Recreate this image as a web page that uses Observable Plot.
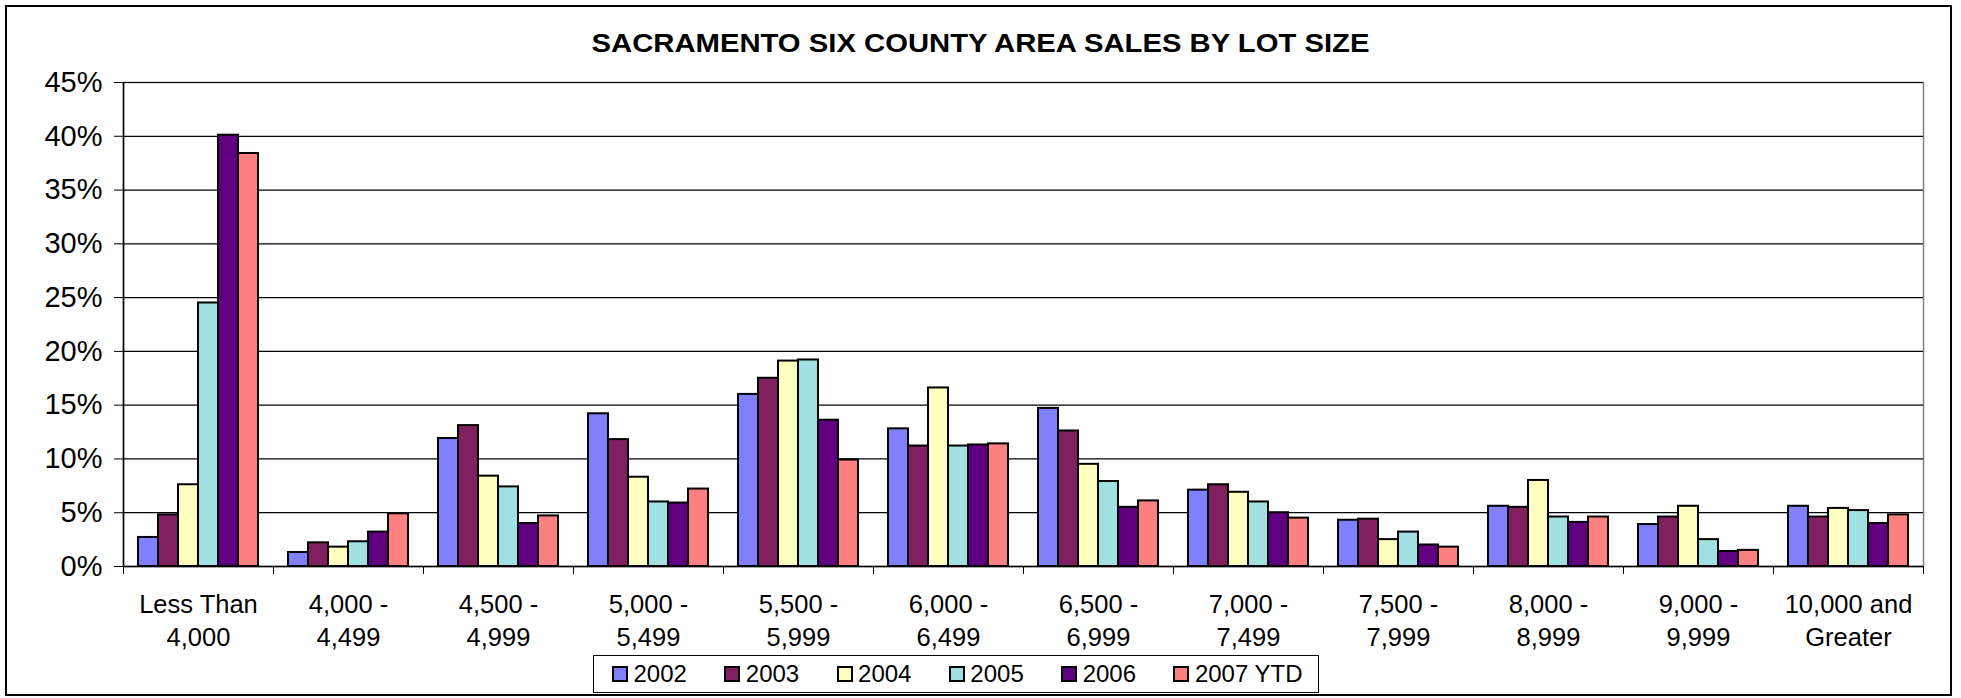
<!DOCTYPE html>
<html>
<head>
<meta charset="utf-8">
<script src="https://cdn.jsdelivr.net/npm/d3@7"></script>
<script src="https://cdn.jsdelivr.net/npm/@observablehq/plot@0.6"></script>
<style>
  html, body { margin: 0; padding: 0; background: #fff; }
  body { width: 1961px; height: 698px; position: relative; overflow: hidden;
         font-family: "Liberation Sans", Arial, sans-serif; color: #000; }
  #frame { position: absolute; left: 5px; top: 5px; width: 1947px; height: 691px;
           border: 2px solid #000; box-sizing: border-box; }
  #title { position: absolute; left: 0; top: 30px; width: 1961px; text-align: center;
           font-weight: bold; font-size: 26px; line-height: 26px; transform: scaleX(1.125); }
  #chart { position: absolute; left: 0; top: 60px; }
  #legend { position: absolute; left: 593px; top: 655px; width: 726px; height: 38px;
            border: 1.5px solid #000; box-sizing: border-box; display: flex; align-items: center;
            padding-left: 18px; gap: 37.4px; font-size: 24px; line-height: 24px; }
  .item { display: flex; align-items: center; white-space: nowrap; }
  .sw { width: 16px; height: 16px; border: 2px solid #000; box-sizing: border-box; margin-right: 5.5px; }
</style>
</head>
<body>
<div id="frame"></div>
<div id="title"></div>
<div id="chart"></div>
<div id="legend"></div>
<script>
const titleText = "SACRAMENTO SIX COUNTY AREA SALES BY LOT SIZE";
const categories = ["Less Than\n4,000", "4,000 -\n4,499", "4,500 -\n4,999", "5,000 -\n5,499",
  "5,500 -\n5,999", "6,000 -\n6,499", "6,500 -\n6,999", "7,000 -\n7,499", "7,500 -\n7,999",
  "8,000 -\n8,999", "9,000 -\n9,999", "10,000 and\nGreater"];
const series = ["2002", "2003", "2004", "2005", "2006", "2007 YTD"];
const colors = ["#8080FF", "#802060", "#FFFFC0", "#A0E0E0", "#600080", "#FF8080"];
const yTicks = [0, 5, 10, 15, 20, 25, 30, 35, 40, 45];

// percent of sales per lot-size category
const s2002 = [2.7, 1.3, 11.9, 14.2, 16.0, 12.8, 14.7, 7.1, 4.3, 5.6, 3.9, 5.6];
const s2003 = [4.8, 2.2, 13.1, 11.8, 17.5, 11.2, 12.6, 7.6, 4.4, 5.5, 4.6, 4.6];
const s2004 = [7.6, 1.8, 8.4, 8.3, 19.1, 16.6, 9.5, 6.9, 2.5, 8.0, 5.6, 5.4];
const s2005 = [24.5, 2.3, 7.4, 6.0, 19.2, 11.2, 7.9, 6.0, 3.2, 4.6, 2.5, 5.2];
const s2006 = [40.1, 3.2, 4.0, 5.9, 13.6, 11.3, 5.5, 5.0, 2.0, 4.1, 1.4, 4.0];
const s2007 = [38.4, 4.9, 4.7, 7.2, 9.9, 11.4, 6.1, 4.5, 1.8, 4.6, 1.5, 4.8];
const seriesValues = [s2002, s2003, s2004, s2005, s2006, s2007];

// table for the library: each bar sits in its category slot, series side by side
const groupFill = 0.8;
const barW = groupFill / series.length;
const rows = [];
categories.forEach((c, ci) => {
  series.forEach((s, si) => {
    const x1 = ci + (1 - groupFill) / 2 + si * barW;
    rows.push({category: c, series: s, value: seriesValues[si][ci], x1, x2: x1 + barW});
  });
});
const boundaries = d3.range(0, categories.length + 1);

document.getElementById("title").textContent = titleText;

const chart = Plot.plot({
  width: 1961,
  height: 595,
  marginLeft: 123,
  marginRight: 38,
  marginTop: 22,
  marginBottom: 89,
  style: {fontFamily: "'Liberation Sans', Arial, sans-serif", fontSize: "28px", color: "#000",
          background: "transparent", overflow: "visible"},
  x: {domain: [0, categories.length], axis: null},
  y: {domain: [0, 45], axis: null},
  color: {domain: series, range: colors},
  marks: [
    Plot.frame({stroke: "#808080", strokeWidth: 1.5}),
    Plot.gridY(yTicks, {stroke: "#000", strokeOpacity: 1, strokeWidth: 1.2}),
    Plot.rect(rows, {x1: "x1", x2: "x2", y1: 0, y2: "value", fill: "series",
                     stroke: "#000", strokeWidth: 2}),
    Plot.ruleX([0], {stroke: "#000", strokeWidth: 1.5}),
    Plot.ruleY([0], {stroke: "#000", strokeWidth: 1.5}),
    Plot.axisY(yTicks, {tickSize: 9, tickPadding: 12, tickFormat: d => d + "%",
                        fontSize: 29, stroke: "#000", label: null}),
    Plot.axisX(boundaries, {tickSize: 8, tickFormat: () => "", stroke: "#000", label: null}),
    Plot.text(categories, {x: (d, i) => i + 0.5, frameAnchor: "bottom", lineAnchor: "top",
                           dy: 23.3, lineHeight: 1.29, fontSize: 25.5, text: d => d, fill: "#000"})
  ]
});
document.getElementById("chart").appendChild(chart);

const legend = document.getElementById("legend");
series.forEach((s, i) => {
  const item = document.createElement("div");
  item.className = "item";
  const sw = document.createElement("div");
  sw.className = "sw";
  sw.style.background = colors[i];
  const t = document.createElement("span");
  t.textContent = s;
  item.appendChild(sw);
  item.appendChild(t);
  legend.appendChild(item);
});
</script>
</body>
</html>
